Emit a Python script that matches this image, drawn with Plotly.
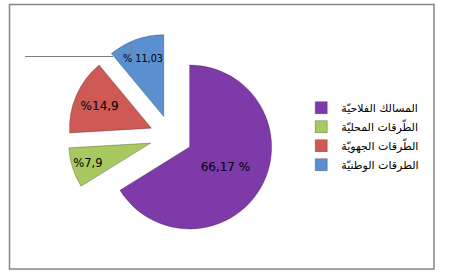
import plotly.graph_objects as go

labels = ["المسالك الفلاحيّة", "الطّرقات المحليّة", "الطّرقات الجهويّة", "الطرقات الوطنيّة"]
values = [66.17, 7.9, 14.9, 11.03]
value_text = ["66,17 %", "%7,9", "%14,9", "% 11,03"]
colors = ["#7D3AA8", "#A8C860", "#CF5A55", "#5A8FD0"]

fig = go.Figure(go.Pie(
    labels=labels,
    values=values,
    text=value_text,
    texttemplate="%{text}",
    textposition="inside",
    insidetextorientation="horizontal",
    textfont=dict(family="DejaVu Sans", size=12, color="#000000"),
    marker=dict(colors=colors, line=dict(color="rgba(0,0,0,0.25)", width=1)),
    sort=False,
    direction="clockwise",
    rotation=0,
    pull=[0.26, 0.26, 0.26, 0.26],
    hole=0,
    domain=dict(x=[0.1495, 0.6055], y=[0.137, 0.880]),
    showlegend=True,
))

fig.update_layout(
    width=453, height=278,
    margin=dict(l=0, r=0, t=0, b=0),
    paper_bgcolor="white",
    plot_bgcolor="white",
    font=dict(family="DejaVu Sans", size=11, color="#000000"),
    legend=dict(
        x=0.665, y=0.665, xanchor="left", yanchor="top",
        font=dict(family="DejaVu Sans", size=11, color="#000000"),
        bgcolor="rgba(0,0,0,0)",
    ),
    shapes=[
        dict(type="rect", xref="paper", yref="paper",
             x0=9.5/453, x1=434/453, y0=1-269/278, y1=1-4.5/278,
             line=dict(color="#868686", width=1.5), fillcolor="rgba(0,0,0,0)"),
        dict(type="line", xref="paper", yref="paper",
             x0=25/453, x1=113/453, y0=1-56.5/278, y1=1-56.5/278,
             line=dict(color="#7F7F7F", width=1)),
        dict(type="line", xref="paper", yref="paper",
             x0=131/453, x1=131/453, y0=1-43/278, y1=1-56/278,
             line=dict(color="#7F7F7F", width=1)),
    ],
)

fig.write_html("out.html")
